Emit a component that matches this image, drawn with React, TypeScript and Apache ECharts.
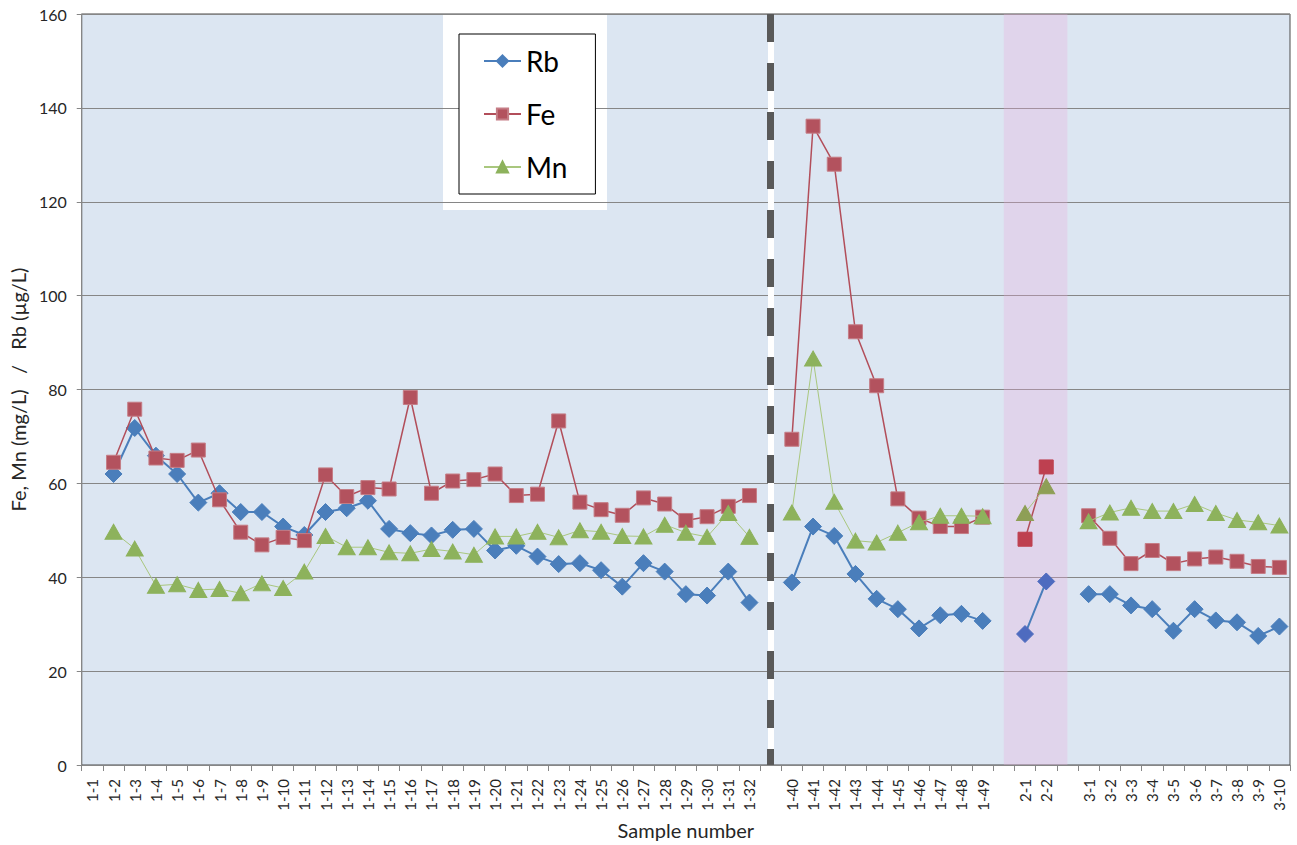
import React, { useEffect, useRef } from "react";
import * as echarts from "echarts";

const categories: string[] = [
  "1-1", "1-2", "1-3", "1-4", "1-5", "1-6", "1-7", "1-8", "1-9", "1-10",
  "1-11", "1-12", "1-13", "1-14", "1-15", "1-16", "1-17", "1-18", "1-19", "1-20",
  "1-21", "1-22", "1-23", "1-24", "1-25", "1-26", "1-27", "1-28", "1-29", "1-30",
  "1-31", "1-32", "gap1",
  "1-40", "1-41", "1-42", "1-43", "1-44", "1-45", "1-46", "1-47", "1-48", "1-49",
  "gap2", "2-1", "2-2", "gap3",
  "3-1", "3-2", "3-3", "3-4", "3-5", "3-6", "3-7", "3-8", "3-9", "3-10",
];

const rbValues: (number | null)[] = [
  null, 62.0, 71.8, 65.9, 62.0, 55.9, 57.9, 53.9, 53.9, 50.8,
  49.0, 53.9, 54.7, 56.3, 50.3, 49.4, 48.9, 50.1, 50.3, 45.7,
  46.7, 44.4, 42.8, 43.0, 41.5, 38.0, 43.0, 41.2, 36.4, 36.1,
  41.2, 34.6, null,
  38.9, 50.8, 48.8, 40.7, 35.4, 33.2, 29.1, 31.9, 32.2, 30.7,
  null, 27.9, 39.1, null,
  36.4, 36.4, 34.0, 33.2, 28.6, 33.2, 30.8, 30.4, 27.5, 29.5,
];

const feValues: (number | null)[] = [
  null, 64.5, 75.8, 65.4, 64.9, 67.1, 56.5, 49.6, 46.9, 48.5,
  47.8, 61.8, 57.2, 59.1, 58.8, 78.3, 57.9, 60.5, 60.8, 62.0,
  57.4, 57.7, 73.3, 56.0, 54.4, 53.2, 56.9, 55.6, 52.1, 52.9,
  55.1, 57.4, null,
  69.4, 136.1, 128.0, 92.3, 80.8, 56.7, 52.6, 50.8, 50.8, 52.8,
  null, 48.1, 63.5, null,
  53.1, 48.3, 42.9, 45.7, 42.9, 43.9, 44.3, 43.4, 42.3, 42.1,
];

const mnValues: (number | null)[] = [
  null, 49.7, 46.1, 38.2, 38.5, 37.3, 37.5, 36.6, 38.7, 37.7,
  41.2, 48.8, 46.4, 46.4, 45.3, 45.1, 46.0, 45.5, 44.8, 48.7,
  48.7, 49.7, 48.5, 50.0, 49.7, 48.8, 48.7, 51.2, 49.5, 48.6,
  53.7, 48.6, null,
  53.8, 86.6, 56.1, 47.8, 47.4, 49.5, 51.7, 53.1, 53.1, 53.0,
  null, 53.7, 59.4, null,
  51.9, 53.8, 54.8, 54.1, 54.1, 55.6, 53.7, 52.2, 51.7, 51.0,
];

const yTicks = { min: 0, max: 160, interval: 20 };
const seriesNames = ["Rb", "Fe", "Mn"];
const dividerCategory = "gap1";
const bandStart = "gap2";
const bandEnd = "gap3";

const FONT = 'Lato, "Open Sans", "Noto Sans", sans-serif';

export default function App() {
  const ref = useRef<HTMLDivElement>(null);

  useEffect(() => {
    if (!ref.current) return;
    const chart = echarts.init(ref.current, undefined, { renderer: "svg" });

    const i0 = categories.indexOf(bandStart);
    const i1 = categories.indexOf(bandEnd);
    const inBand = (i: number) => i > i0 && i < i1;
    const build = (vals: (number | null)[], bandColor: string) =>
      vals.map((v, i) =>
        inBand(i) && v != null
          ? { value: v, itemStyle: { color: bandColor, borderColor: bandColor } }
          : v
      );

    const option: any = {
      animation: false,
      textStyle: { fontFamily: FONT },
      graphic: {
        elements: [
          {
            type: "rect",
            z: -10,
            silent: true,
            shape: { x: 81, y: 14, width: 1209, height: 751 },
            style: { fill: "#DCE6F2" },
          },
          {
            type: "rect",
            z: -9,
            silent: true,
            shape: { x: 443, y: 14, width: 164, height: 196 },
            style: { fill: "#FFFFFF" },
          },
        ],
      },
      grid: {
        left: 81,
        top: 14,
        right: 7,
        bottom: 80,
        show: true,
        backgroundColor: "transparent",
        borderColor: "#4A4A4A",
        borderWidth: 1,
      },
      legend: {
        data: seriesNames,
        orient: "vertical",
        left: 459,
        top: 34,
        padding: [13, 28, 13, 24],
        itemGap: 25,
        itemWidth: 37,
        itemHeight: 14,
        backgroundColor: "#FFFFFF",
        borderColor: "#000000",
        borderWidth: 1,
        textStyle: { fontSize: 28, color: "#000000", fontFamily: FONT },
      },
      xAxis: {
        type: "category",
        data: categories,
        boundaryGap: true,
        axisLine: { lineStyle: { color: "#868686", width: 1 } },
        axisTick: { show: true, interval: 0, length: 6, lineStyle: { color: "#868686" } },
        axisLabel: {
          interval: 0,
          rotate: 90,
          fontSize: 15,
          color: "#262626",
          margin: 14,
          fontFamily: FONT,
          formatter: (v: string) => (v.startsWith("gap") ? "" : v),
        },
        splitLine: { show: false },
        name: "Sample number",
        nameLocation: "middle",
        nameGap: 55,
        nameTextStyle: { fontSize: 20, color: "#262626", fontFamily: FONT },
      },
      yAxis: {
        type: "value",
        min: yTicks.min,
        max: yTicks.max,
        interval: yTicks.interval,
        axisLine: { show: true, lineStyle: { color: "#868686" } },
        axisTick: { show: true, length: 5, lineStyle: { color: "#868686" } },
        axisLabel: { fontSize: 16, color: "#262626", margin: 15, fontFamily: FONT },
        splitLine: { lineStyle: { color: "#868686", width: 1 } },
        name: "Fe, Mn (mg/L)   /   Rb (µg/L)",
        nameLocation: "middle",
        nameRotate: 90,
        nameGap: 50,
        nameTextStyle: { fontSize: 20, color: "#262626", fontFamily: FONT },
      },
      series: [
        {
          name: "_decor",
          type: "line",
          data: [],
          z: 1,
          silent: true,
          markArea: {
            silent: true,
            itemStyle: { color: "rgba(236,172,220,0.3)" },
            data: [[{ xAxis: bandStart }, { xAxis: bandEnd }]],
          },
          markLine: {
            silent: true,
            symbol: ["none", "none"],
            label: { show: false },
            data: [
              [
                { coord: [dividerCategory, yTicks.max], lineStyle: { color: "#FFFFFF", width: 6, type: "solid" } },
                { coord: [dividerCategory, yTicks.min], lineStyle: { color: "#FFFFFF", width: 6, type: "solid" } },
              ],
              [
                { coord: [dividerCategory, yTicks.max], lineStyle: { color: "#595959", width: 7, type: [28, 21] } },
                { coord: [dividerCategory, yTicks.min], lineStyle: { color: "#595959", width: 7, type: [28, 21] } },
              ],
            ],
          },
        },
        {
          name: "Rb",
          type: "line",
          data: build(rbValues, "#4E6BBF"),
          connectNulls: false,
          symbol: "diamond",
          symbolSize: 17,
          lineStyle: { color: "#4A7EBB", width: 2 },
          itemStyle: { color: "#4A7EBB", borderColor: "#4A7EBB", borderWidth: 1 },
          z: 2,
        },
        {
          name: "Fe",
          type: "line",
          data: build(feValues, "#BE4050"),
          connectNulls: false,
          symbol: "rect",
          symbolSize: 14,
          lineStyle: { color: "#B24E5A", width: 1.5 },
          itemStyle: { color: "#B3525E", borderColor: "#C57D86", borderWidth: 1 },
          z: 3,
        },
        {
          name: "Mn",
          type: "line",
          data: build(mnValues, "#8E9F56"),
          connectNulls: false,
          symbol: "triangle",
          symbolSize: [17, 15],
          lineStyle: { color: "#A9C77E", width: 1 },
          itemStyle: { color: "#8DB25C", borderColor: "#8DB25C", borderWidth: 1 },
          z: 4,
        },
      ],
    };

    chart.setOption(option);
    return () => chart.dispose();
  }, []);

  return (
    <div
      ref={ref}
      style={{ position: "absolute", left: 0, top: 0, width: 1297, height: 845, background: "#FFFFFF" }}
    />
  );
}
